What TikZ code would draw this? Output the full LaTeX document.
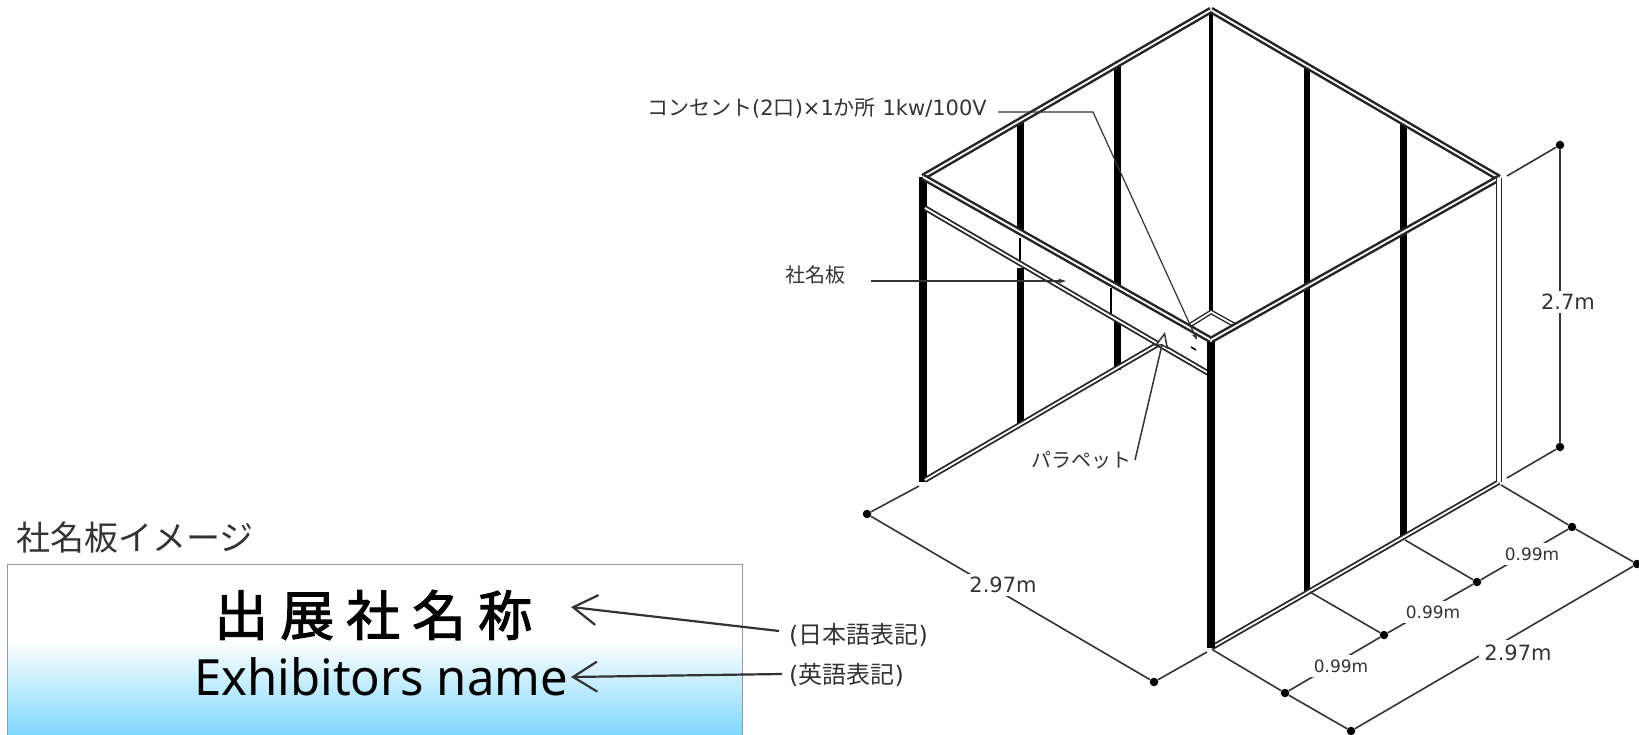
\documentclass[tikz,border=0pt]{standalone}
\usepackage{fontspec}
\setmainfont{DejaVu Sans}
\newfontfamily\cjk{Noto Sans CJK JP}
\newfontfamily\boldjp[FakeBold=2]{Noto Sans CJK JP}
\newfontfamily\namefont[FakeStretch=0.98]{Noto Sans}
\usetikzlibrary{arrows.meta}
\definecolor{skyfill}{HTML}{7FD8FF}
\definecolor{inkgray}{HTML}{333333}
\tikzset{
  rail/.style={draw=black!85,line width=2.5pt,double=white,double distance=1.8pt},
  post/.style={draw=black,line width=#1},
  dimline/.style={draw=inkgray,line width=1.6pt},
  dot/.style={circle,fill=black,inner sep=0pt,minimum size=8.5pt},
  dimtext/.style={fill=white,inner sep=3pt,text=inkgray,font=\fontsize{21}{25}\selectfont},
  subtext/.style={fill=white,inner sep=5pt,text=inkgray,font=\fontsize{17}{21}\selectfont},
  note/.style={inner sep=0pt,text=inkgray,font=\fontsize{21}{25}\selectfont},
  bigarrow/.style={draw=inkgray,line width=2.2pt,-{Straight Barb[length=24pt,width=30pt,line width=2.2pt]}}
}
\begin{document}
\begin{tikzpicture}[x=1pt,y=-1pt]
  \useasboundingbox (0,0) rectangle (1639,735);

  \shade[top color=white,bottom color=skyfill] (7,640) rectangle (742,735);
  \draw[black!40] (7,735) -- (7,564) -- (742,564) -- (742,735);

  \coordinate (TL) at (923,177);
  \coordinate (TB) at (1211,10);
  \coordinate (TR) at (1499,178);
  \coordinate (TF) at (1211,340);
  \coordinate (BL) at (925,480);
  \coordinate (BK) at (1160,343);
  \coordinate (BF) at (1211,648);
  \coordinate (BR) at (1499,482);
  \coordinate (PL) at (925,208);
  \coordinate (PF) at (1208,373);

  \draw[post=7.5pt] (TL) -- (923,482);
  \draw[post=7pt] (1020,122) -- (1020,232);
  \draw[post=7pt] (1020,268) -- (1020,425);
  \draw[post=7pt] (1117,65) -- (1117,288);
  \draw[post=7pt] (1117,320) -- (1117,370);
  \draw[post=4.5pt] (TB) -- (1211,312);
  \draw[post=5.5pt] (1307,65) -- (1307,591);
  \draw[post=7pt] (1403,122) -- (1403,537);
  \draw[post=1.5pt] (1020,238) -- (1020,266);
  \draw[post=1.5pt] (1111,288) -- (1111,317);

  \draw[rail,line width=1.8pt] (BL) -- (BK);
  \draw[rail,line width=1.8pt] (PL) -- (PF);
  \draw[rail,line width=1.4pt] (1187,327) -- (1211,312) -- (1238,327);
  \draw[rail] (TL) -- (TB);
  \draw[rail] (TB) -- (TR);
  \draw[rail] (TL) -- (TF);
  \draw[rail] (TR) -- (TF);
  \draw[rail,line width=1.8pt] (BF) -- (BR);
  \draw[rail,line width=1.6pt,double distance=3.5pt] (TR) -- (BR);
  \draw[post=8.5pt] (1211,342) -- (BF);
  \draw[post=1.5pt] (1191,347) -- (1196,350);

  \node[dot] (H1) at (1560,145) {};
  \node[dot] (H2) at (1560,447) {};
  \coordinate (HT) at (1507,176);
  \coordinate (HB) at (1507,478);
  \draw[dimline] (HT) -- (H1) -- (H2) -- (HB);
  \node[dimtext] (Hlab) at (1568,302) {2.7m};

  \node[dot] (W1) at (867,514) {};
  \node[dot] (W2) at (1154,682) {};
  \coordinate (WT) at (919,486);
  \coordinate (WB) at (1207,652);
  \draw[dimline] (WT) -- (W1) -- (W2) -- (WB);
  \node[dimtext] (Wlab) at (1003,585) {2.97m};

  \node[dot] (D0) at (1351,731) {};
  \node[dot] (D1) at (1637,564) {};
  \node[dot] (E1) at (1285,693) {};
  \node[dot] (E2) at (1384,635) {};
  \node[dot] (E3) at (1477,582) {};
  \node[dot] (E4) at (1572,527) {};
  \coordinate (F0) at (1213,650);
  \coordinate (F1) at (1310,592);
  \coordinate (F2) at (1405,540);
  \coordinate (F3) at (1501,485);
  \draw[dimline] (F0) -- (E1) -- (D0) -- (D1) -- (E4) -- (F3);
  \draw[dimline] (F1) -- (E2);
  \draw[dimline] (F2) -- (E3);
  \draw[dimline] (E1) -- (E2) -- (E3) -- (E4);
  \node[dimtext,inner sep=5pt] (Dlab) at (1518,653) {2.97m};
  \node[subtext] (E1lab) at (1341,666) {0.99m};
  \node[subtext] (E2lab) at (1433,612) {0.99m};
  \node[subtext] (E3lab) at (1532,554) {0.99m};

  \node[note,anchor=east] (outlet) at (987,108) {{\cjk コンセント}(2{\cjk 口})×1{\cjk か所} 1kw/100V};
  \coordinate (outletA) at (998,112);
  \coordinate (outletB) at (1093,112);
  \coordinate (outletC) at (1197,340);
  \draw[draw=inkgray,line width=1.2pt,-{Stealth[length=7pt,width=5pt]}] (outletA) -- (outletB) -- (outletC);

  \node[note,anchor=east,font=\cjk\fontsize{20}{24}\selectfont] (board) at (846,275) {社名板};
  \coordinate (boardA) at (871,281);
  \coordinate (boardB) at (1066,281);
  \draw[draw=inkgray,line width=1.5pt,-{Stealth[length=8pt,width=5pt]}] (boardA) -- (boardB);

  \node[note,anchor=east,font=\cjk\fontsize{20}{24}\selectfont] (parapet) at (1132,460) {パラペット};
  \coordinate (parapetA) at (1135,460);
  \coordinate (parapetB) at (1165,332);
  \draw[draw=inkgray,line width=1.5pt,-{Stealth[open,fill=white,length=16pt,width=14pt,inset=2pt]}] (parapetA) -- (parapetB);

  \node[inner sep=0pt,anchor=west,text=inkgray,font=\cjk\fontsize{34}{40}\selectfont] (title) at (16,538) {社名板イメージ};
  \node[inner sep=0pt,anchor=west,font=\boldjp\fontsize{54}{64}\selectfont] (jpname) at (214,615) {出\hspace{12pt}展\hspace{12pt}社\hspace{12pt}名\hspace{12pt}称};
  \node[inner sep=0pt,anchor=west,font=\namefont\fontsize{50}{60}\selectfont] (enname) at (194,677) {Exhibitors name};
  \node[note,anchor=west,font=\fontsize{24}{28}\selectfont] (jplab) at (789,635) {({\cjk 日本語表記})};
  \node[note,anchor=west,font=\fontsize{24}{28}\selectfont] (enlab) at (789,675) {({\cjk 英語表記})};
  \coordinate (jptip) at (571,607);
  \coordinate (entip) at (571,677);
  \draw[bigarrow] (779,631) -- (jptip);
  \draw[bigarrow] (782,674) -- (entip);
\end{tikzpicture}
\end{document}
